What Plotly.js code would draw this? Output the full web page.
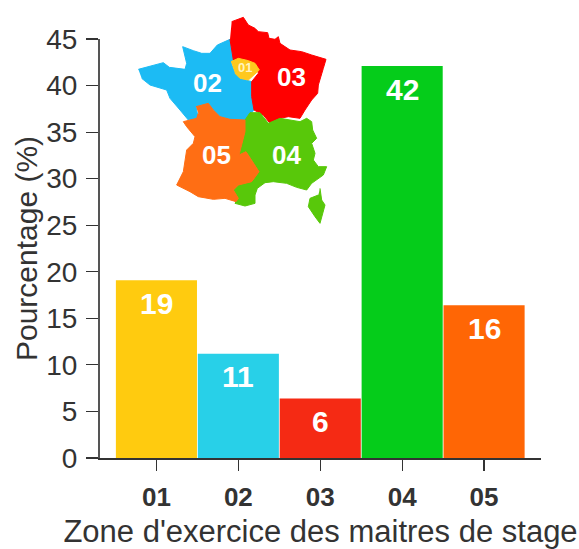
<!DOCTYPE html>
<html><head><meta charset="utf-8">
<script src="https://cdn.plot.ly/plotly-3.0.1.min.js"></script>
<style>html,body{margin:0;padding:0;background:#fff}</style></head>
<body><div id="chart" style="width:579px;height:549px"></div>
<script>
const zones = ['01','02','03','04','05'];
const values = [19.1, 11.2, 6.4, 42.1, 16.4];
const valueLabels = ['19','11','6','42','16'];
const barColors = ['#FFCB0F','#28D0E8','#F52A14','#05CC1A','#FF6605'];

// Inset map outlines, in map units
const mapNames = ['01','02','03','04','05'];
const mapColors = ['#FFC81E','#1CBBF4','#FF0000','#58C80A','#FF6E14'];
const blueX = [25,60,100,118,165,170,158,190,215,240,262,300,310,303,315,330,365,365,372,345,300,270,250,235,198,205,175,150,120,110,60,35];
const blueY = [178,168,158,172,178,160,110,122,130,130,105,88,150,158,190,205,215,260,300,330,328,320,300,280,290,325,330,300,265,240,225,205];
const redX = [305,340,355,375,385,413,417,435,445,450,480,515,545,588,580,565,563,545,525,510,475,450,420,400,372,365,365,385,380,345,310,300];
const redY = [35,22,45,55,65,68,85,88,80,100,120,125,135,148,175,225,250,270,300,325,320,325,340,315,300,260,215,190,165,148,150,88];
const yellowX = [303,325,355,375,388,370,355,330,315];
const yellowY = [155,145,152,160,180,195,210,205,190];
const greenX = [345,360,390,415,450,480,510,530,545,548,560,545,555,550,565,590,580,545,530,500,470,430,405,382,375,375,345,315,325,310,325,365,387,365,348,327,335,345];
const greenY = [330,308,308,340,325,330,335,325,335,360,385,400,430,450,470,470,495,520,540,532,520,515,518,535,555,580,588,580,565,540,525,515,485,450,425,435,400,365];
const orangeX = [198,235,250,270,300,345,345,335,327,348,365,387,365,325,310,325,318,285,250,205,180,140,160,170,190,195,170,160,200,205];
const orangeY = [290,280,300,320,328,330,365,400,435,425,450,485,515,525,540,565,575,565,568,560,545,525,485,420,400,380,350,335,325,310];
const corsicaX = [570,575,585,570,555,535,540,565];
const corsicaY = [535,570,585,640,620,590,565,555];
const mapLabelX = [345,232,483,470,260];
const mapLabelY = [172,218,200,435,435];
const mapLabelSize = [13,26,26,26,26];
const mapLabelColor = ['#FFF3C0','#fff','#fff','#fff','#fff'];

const W = 579, H = 549, L = 100, R = 38, T = 8, B = 91;
const plotH = H - T - B, plotW = W - L - R;
const yTop = (39 - T) / plotH;
const ink = '#333333', font = 'Liberation Sans, Arial, sans-serif';
const fx = p => (p - L) / plotW, fy = p => (H - B - p) / plotH;

function region(x, y, c) {
  return {type:'scatter', mode:'lines', x, y, xaxis:'x2', yaxis:'y2', fill:'toself',
          fillcolor:c, line:{color:c, width:1}, hoverinfo:'skip', showlegend:false};
}
const traces = [
  {type:'bar', x:zones, y:values, marker:{color:barColors, line:{width:0}}, showlegend:false, hoverinfo:'skip'},
  region(blueX, blueY, mapColors[1]),
  region(redX, redY, mapColors[2]),
  region(greenX, greenY, mapColors[3]),
  region(corsicaX, corsicaY, mapColors[3]),
  region(orangeX, orangeY, mapColors[4]),
  region(yellowX, yellowY, mapColors[0])
];
const annotations = zones.map((z,i)=>({
  x:i, y:values[i], xref:'x', yref:'y', text:valueLabels[i], showarrow:false,
  yanchor:'middle', xanchor:'center', yshift:-23,
  font:{family:font, size:30, color:'#fff', weight:700}
})).concat(mapNames.map((n,i)=>({
  x:mapLabelX[i], y:mapLabelY[i], xref:'x2', yref:'y2', text:n, showarrow:false,
  font:{family:font, size:mapLabelSize[i], color:mapLabelColor[i], weight:700}
})));
const layout = {
  width:W, height:H, paper_bgcolor:'#fff', plot_bgcolor:'#fff',
  margin:{l:L, r:R, t:T, b:B, pad:0}, bargap:0.01, showlegend:false,
  font:{family:font, color:ink},
  xaxis:{type:'category', range:[-0.689,4.695], showgrid:false, zeroline:false, layer:'below traces',
    showline:true, linecolor:ink, linewidth:1.5, ticks:'outside', ticklen:11, tickwidth:1.2, tickcolor:ink,
    tickfont:{family:font, size:26, color:ink, weight:700}, ticklabelstandoff:4, fixedrange:true,
    title:{text:"Zone d'exercice des maitres de stage", font:{family:font, size:31, color:ink}, standoff:21}},
  yaxis:{domain:[0,1-yTop], range:[0,45], tickvals:[0,5,10,15,20,25,30,35,40,45], showgrid:false, zeroline:false,
    showline:true, linecolor:'#555555', linewidth:2, ticks:'outside', ticklen:12, tickwidth:1.2, tickcolor:ink,
    tickfont:{family:font, size:28, color:ink}, ticklabelstandoff:3, fixedrange:true,
    title:{text:'Pourcentage (%)', font:{family:font, size:30, color:ink}, standoff:0}},
  xaxis2:{domain:[fx(130),fx(340)], range:[0,630], anchor:'y2', visible:false, fixedrange:true},
  yaxis2:{domain:[fy(230),Math.min(1,fy(10))], range:[660,0], anchor:'x2', visible:false, fixedrange:true},
  annotations
};
Plotly.newPlot('chart', traces, layout, {displayModeBar:false, staticPlot:true});
</script></body></html>
